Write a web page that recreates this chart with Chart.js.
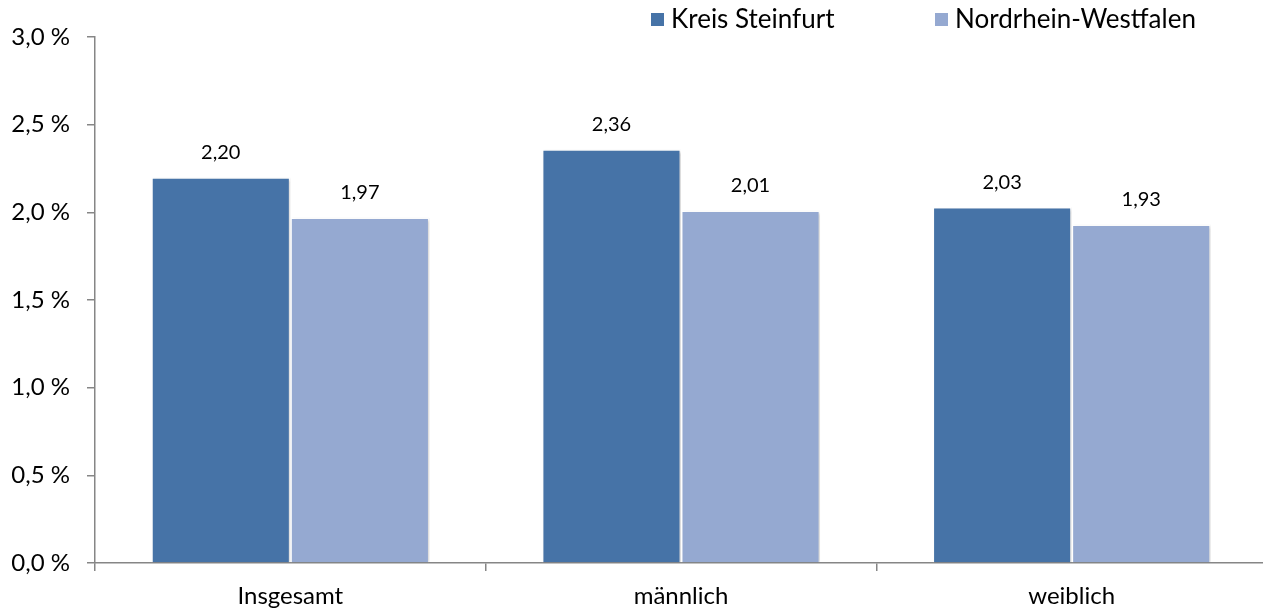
<!DOCTYPE html>
<html>
<head>
<meta charset="utf-8">
<script src="https://cdn.jsdelivr.net/npm/chart.js"></script>
<style>
  html, body { margin: 0; padding: 0; background: #fff; overflow: hidden; }
  #wrap { width: 1268px; height: 613px; }
</style>
</head>
<body>
<div id="wrap"><canvas id="rateChart"></canvas></div>
<script>
const categories = ['Insgesamt', 'männlich', 'weiblich'];
const seriesNames = ['Kreis Steinfurt', 'Nordrhein-Westfalen'];
const steinfurt = [2.20, 2.36, 2.03];
const nrw = [1.97, 2.01, 1.93];
const yTicks = [0, 0.5, 1.0, 1.5, 2.0, 2.5, 3.0];

const FONT = 'Lato, "Open Sans", sans-serif';
const axisGrey = '#868686';

function de(v, d) { return v.toFixed(d).replace('.', ','); }

// value labels above each bar
const valueLabels = {
    id: 'valueLabels',
    afterDatasetsDraw(chart) {
        const ctx = chart.ctx;
        ctx.save();
        ctx.font = '20px ' + FONT;
        ctx.fillStyle = '#000';
        ctx.textAlign = 'center';
        ctx.textBaseline = 'middle';
        chart.data.datasets.forEach((ds, i) => {
            chart.getDatasetMeta(i).data.forEach((bar, j) => {
                ctx.fillText(de(ds.data[j], 2), bar.x, bar.y - 25);
            });
        });
        ctx.restore();
    }
};

// soft shadow behind bars
const barShadow = {
    id: 'barShadow',
    beforeDatasetsDraw(chart) {
        const ctx = chart.ctx;
        ctx.save();
        ctx.shadowColor = 'rgba(0,0,0,0.18)';
        ctx.shadowBlur = 3;
        ctx.shadowOffsetX = 2;
        ctx.shadowOffsetY = 1;
    },
    afterDatasetsDraw(chart) {
        chart.ctx.restore();
    }
};

// legend drawn top right
const topLegend = {
    id: 'topLegend',
    afterDraw(chart) {
        const ctx = chart.ctx;
        const xs = [651, 935];
        ctx.save();
        ctx.font = '26px ' + FONT;
        ctx.textBaseline = 'middle';
        ctx.textAlign = 'left';
        chart.data.datasets.forEach((ds, i) => {
            ctx.fillStyle = ds.backgroundColor;
            ctx.fillRect(xs[i], 13, 13, 13);
            ctx.fillStyle = '#000';
            ctx.fillText(ds.label, xs[i] + 20, 20);
        });
        ctx.restore();
    }
};

new Chart(document.getElementById('rateChart'), {
    type: 'bar',
    data: {
        labels: categories,
        datasets: [
            { label: seriesNames[0], data: steinfurt, backgroundColor: '#4673A7' },
            { label: seriesNames[1], data: nrw, backgroundColor: '#95A9D1' }
        ]
    },
    options: {
        responsive: true,
        maintainAspectRatio: false,
        animation: false,
        layout: { padding: { top: 37, right: 1, left: 0, bottom: 0 } },
        datasets: {
            bar: {
                categoryPercentage: 0.712,
                barPercentage: 1.0,
                borderColor: '#ffffff',
                borderWidth: 1.5
            }
        },
        plugins: {
            legend: { display: false },
            tooltip: { enabled: false }
        },
        scales: {
            x: {
                afterFit(scale) { scale.height = 50; },
                border: { color: axisGrey, width: 1.5 },
                grid: {
                    offset: true,
                    drawOnChartArea: false,
                    drawTicks: true,
                    tickLength: 8,
                    color: axisGrey,
                    lineWidth: 1.5
                },
                ticks: {
                    color: '#000',
                    font: { family: FONT, size: 24 },
                    padding: 11
                }
            },
            y: {
                min: 0,
                max: 3,
                afterFit(scale) { scale.width = 95; },
                afterBuildTicks(scale) {
                    scale.ticks = yTicks.map(v => ({ value: v }));
                },
                border: { color: axisGrey, width: 1.5 },
                grid: {
                    drawOnChartArea: false,
                    drawTicks: true,
                    tickLength: 8,
                    color: axisGrey,
                    lineWidth: 1.5
                },
                ticks: {
                    color: '#000',
                    font: { family: FONT, size: 24 },
                    padding: 17,
                    callback: v => de(v, 1) + ' %'
                }
            }
        }
    },
    plugins: [barShadow, valueLabels, topLegend]
});
</script>
</body>
</html>
